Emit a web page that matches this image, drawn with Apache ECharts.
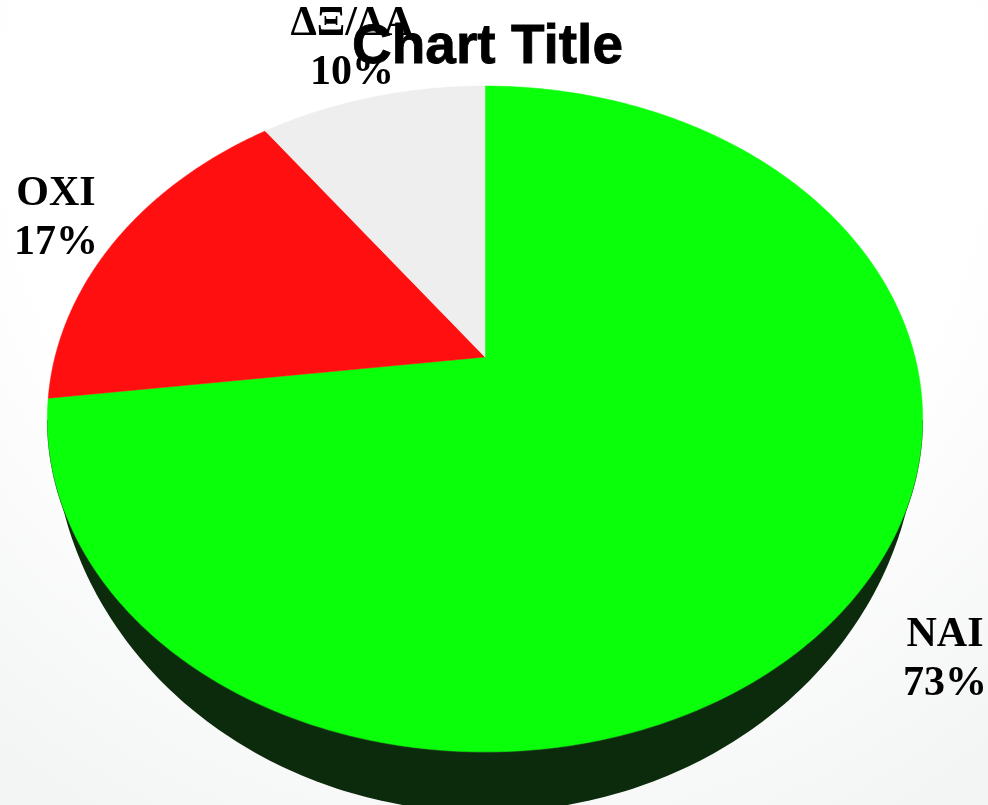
<!DOCTYPE html>
<html>
<head>
<meta charset="utf-8">
<style>html,body{margin:0;padding:0;background:#fff}#c{width:988px;height:805px}</style>
<script src="https://cdn.jsdelivr.net/npm/echarts@6/dist/echarts.min.js"></script>
</head>
<body>
<div id="c"></div>
<script>
const titleText = 'Chart Title';
const categories = ['NAI', 'ΔΞ/ΔΑ', 'OXI'];
const values = [73, 10, 17];
const drawOrder = [0, 2, 1];
const sliceColors = {NAI: '#0aff0a', OXI: '#ff0f0f', 'ΔΞ/ΔΑ': '#eeeeee'};
const labelAnchors = {NAI: [945, 611], OXI: [56, 170], 'ΔΞ/ΔΑ': [352, 0]};
const sideColor = '#0c2a0c';

// Tilted-disc projection: a unit circle seen in perspective
const apex = {x: 485, y: 357, a: 430, b: 321.4, k: 0.186};
function project(deg) {
  const t = deg * Math.PI / 180, u = Math.sin(t), v = Math.cos(t), w = 1 + apex.k * v;
  return [apex.x + apex.a * u / w, apex.y - apex.b * v / w];
}
function ellipsePoints(cx, cy, rx, ry, from, to) {
  const pts = [];
  for (let d = from; d <= to; d += 1) {
    const t = d * Math.PI / 180;
    pts.push([cx + rx * Math.cos(t), cy + ry * Math.sin(t)]);
  }
  return pts;
}
const total = values.reduce((s, v) => s + v, 0);
// order clockwise from 12 o'clock: NAI, OXI, ΔΞ/ΔΑ
const seq = drawOrder.map(i => ({name: categories[i], value: values[i]}));

const chart = echarts.init(document.getElementById('c'), null, {renderer: 'canvas'});
chart.setOption({
  animation: false,
  backgroundColor: {
    type: 'radial', x: 0.5, y: 0.15, r: 1.0,
    colorStops: [{offset: 0, color: '#ffffff'}, {offset: 0.6, color: '#ffffff'}, {offset: 1, color: '#f3f4f4'}]
  },
  title: {
    text: titleText, left: 347, top: 15, z: 10,
    textStyle: {fontFamily: 'Liberation Sans', fontWeight: 'bold', fontSize: 55, color: '#000',
      textBorderColor: '#000', textBorderWidth: 0.8}
  },
  series: [
    {
      type: 'custom', coordinateSystem: 'none', silent: true, z: 1,
      data: [0],
      renderItem: function () {
        return {type: 'group', children: [
          {type: 'polygon', shape: {points: ellipsePoints(485, 425, 432, 387, 0, 180)}, style: {fill: sideColor}},
          {type: 'polygon', shape: {points: ellipsePoints(485, 420, 438, 333, 0, 180)}, style: {fill: '#1a3a1a'}}
        ]};
      }
    },
    {
      type: 'custom', coordinateSystem: 'none', silent: true, z: 2,
      data: seq.map(d => d.value),
      renderItem: function (params) {
        let start = 0;
        for (let i = 0; i < params.dataIndex; i++) start += seq[i].value;
        const item = seq[params.dataIndex];
        const a0 = start / total * 360, a1 = (start + item.value) / total * 360;
        const pts = [[apex.x, apex.y]];
        for (let d = a0; d < a1; d += 0.5) pts.push(project(d));
        pts.push(project(a1));
        const col = sliceColors[item.name];
        return {type: 'polygon', shape: {points: pts}, style: {fill: col, stroke: col, lineWidth: 0.5}};
      }
    },
    {
      type: 'custom', coordinateSystem: 'none', silent: true, z: 3,
      data: seq.map(d => d.value),
      renderItem: function (params) {
        const item = seq[params.dataIndex], p = labelAnchors[item.name];
        return {
          type: 'text', x: p[0], y: p[1],
          style: {
            text: item.name + '\n' + item.value + '%',
            font: 'bold 42px "Liberation Serif"', fill: '#000',
            align: 'center', verticalAlign: 'top', lineHeight: 49
          }
        };
      }
    }
  ]
});
</script>
</body>
</html>
